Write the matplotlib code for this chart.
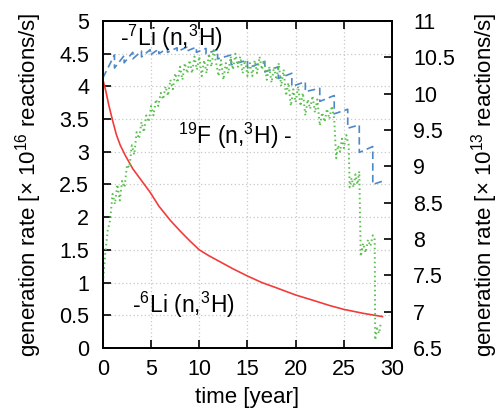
import matplotlib
matplotlib.use("Agg")
import matplotlib.pyplot as plt

plt.rcParams['font.family'] = ['Liberation Sans', 'DejaVu Sans']
plt.rcParams['mathtext.fontset'] = 'custom'
plt.rcParams['mathtext.rm'] = 'Liberation Sans'
plt.rcParams['mathtext.it'] = 'Liberation Sans:italic'

# 6Li(n,3H) generation rate, x 10^16 reactions/s
li6_t = [0, 0.3, 0.6, 1.0, 1.4, 1.8, 2.3, 3.1, 4.2, 4.9, 5.8, 7, 8, 9, 10, 11, 12, 13.5,
         15, 16.5, 18, 20, 22, 23.5, 25, 27, 29]
li6_r = [4.1, 3.93, 3.72, 3.48, 3.26, 3.1, 2.95, 2.74, 2.52, 2.38, 2.17, 1.95, 1.79,
         1.64, 1.5, 1.41, 1.33, 1.21, 1.1, 1.0, 0.92, 0.81, 0.72, 0.65, 0.59, 0.53, 0.48]

# 7Li(n,3H) generation rate, x 10^16 reactions/s (sawtooth from reloading)
li7_t = [0, 1.2, 1.2, 2.2, 2.2, 3.1, 3.1, 4.0, 4.0, 4.9, 4.9, 5.8, 5.8, 6.7, 6.7,
         7.7, 7.7, 8.7, 8.7, 9.7, 9.7, 10.7, 10.7, 11.9, 11.9, 13.3, 13.3, 15.0, 15.0,
         16.8, 16.8, 18.2, 18.2, 19.6, 19.6, 21.0, 21.0, 22.5, 22.5, 24.0, 24.0,
         25.4, 25.4, 26.6, 26.6, 28.0, 28.0, 29.0]
li7_r = [4.13, 4.48, 4.28, 4.47, 4.36, 4.52, 4.42, 4.54, 4.45, 4.56, 4.48, 4.57, 4.5,
         4.58, 4.52, 4.59, 4.53, 4.6, 4.54, 4.6, 4.52, 4.58, 4.5, 4.56, 4.42, 4.48, 4.33,
         4.4, 4.28, 4.38, 4.22, 4.3, 4.12, 4.2, 4.0, 4.07, 3.92, 3.97, 3.77, 3.86, 3.58,
         3.65, 3.36, 3.41, 2.99, 3.08, 2.5, 2.55]

# 19F(n,3H) generation rate, x 10^13 reactions/s
f19_t = [0.0, 0.25, 0.5, 0.75, 1.0, 1.25, 1.5, 1.75, 2.0, 2.25, 2.5, 2.75, 3.0, 3.25,
         3.5, 3.75, 4.0, 4.25, 4.5, 4.75, 5.0, 5.25, 5.5, 5.75, 6.0, 6.25, 6.5, 6.75,
         7.0, 7.25, 7.5, 7.75, 8.0, 8.25, 8.5, 8.75, 9.0, 9.25, 9.5, 9.75, 10.0, 10.25,
         10.5, 10.75, 11.0, 11.25, 11.5, 11.75, 12.0, 12.25, 12.5, 12.75, 13.0, 13.25,
         13.5, 13.75, 14.0, 14.25, 14.5, 14.75, 15.0, 15.25, 15.5, 15.75, 16.0, 16.25,
         16.5, 16.75, 17.0, 17.25, 17.5, 17.75, 18.0, 18.25, 18.5, 18.75, 19.0, 19.25,
         19.5, 19.75, 20.0, 20.25, 20.5, 20.75, 21.0, 21.25, 21.5, 21.75, 22.0, 22.25,
         22.5, 22.75, 23.0, 23.25, 23.5, 23.75, 24.0, 24.2, 24.4, 24.6, 24.8, 25.0,
         25.25, 25.5, 25.6, 25.8, 26.0, 26.2, 26.4, 26.6, 26.75, 27.0, 27.25, 27.5,
         27.75, 28.0, 28.2, 28.25, 28.45, 28.65, 28.8]
f19_r = [7.40, 7.81, 8.12, 8.26, 8.62, 8.48, 8.75, 8.53, 8.80, 8.71, 9.02, 8.98, 9.29,
         9.16, 9.47, 9.38, 9.61, 9.47, 9.70, 9.61, 9.83, 9.70, 9.92, 9.83, 10.01, 9.92,
         10.10, 9.97, 10.19, 10.06, 10.28, 10.15, 10.37, 10.19, 10.42, 10.28, 10.46,
         10.28, 10.51, 10.33, 10.51, 10.24, 10.46, 10.28, 10.55, 10.37, 10.60, 10.42,
         10.24, 10.46, 10.19, 10.42, 10.28, 10.51, 10.33, 10.55, 10.37, 10.51, 10.28,
         10.46, 10.24, 10.42, 10.24, 10.46, 10.28, 10.51, 10.33, 10.46, 10.19, 10.37,
         10.15, 10.37, 10.19, 10.42, 10.10, 10.33, 9.97, 10.15, 9.83, 10.06, 9.88,
         10.10, 9.83, 10.01, 9.70, 9.92, 9.79, 9.97, 9.74, 9.92, 9.56, 9.74, 9.61, 9.79,
         9.65, 9.83, 9.65, 9.11, 9.29, 9.20, 9.38, 9.25, 9.43, 9.29, 8.71, 8.84, 8.71,
         8.89, 8.75, 8.93, 7.76, 7.94, 7.81, 7.99, 7.90, 8.05, 7.99, 6.61, 6.77, 6.70,
         6.82]

left_ticks = [0, 0.5, 1, 1.5, 2, 2.5, 3, 3.5, 4, 4.5, 5]
left_labels = ['0', '0.5', '1', '1.5', '2', '2.5', '3', '3.5', '4', '4.5', '5']
right_ticks = [6.5, 7, 7.5, 8, 8.5, 9, 9.5, 10, 10.5, 11]
right_labels = ['6.5', '7', '7.5', '8', '8.5', '9', '9.5', '10', '10.5', '11']
x_ticks = [0, 5, 10, 15, 20, 25, 30]

fig = plt.figure(figsize=(5.02, 4.19), dpi=100)
ax = fig.add_axes([0.205, 0.1695, 0.576, 0.7805])
ax2 = ax.twinx()

ax.plot(li6_t, li6_r, color='#f23c3c', lw=1.2, zorder=3)
ax.plot(li7_t, li7_r, color='#4d88c7', lw=1.2, dashes=(4.5, 2.5), zorder=3)
ax2.plot(f19_t, f19_r, color='#5cc050', lw=1.4, dashes=(0.8, 1.6))

ax.set_xlim(0, 30)
ax.set_ylim(0, 5)
ax2.set_ylim(6.5, 11)
ax.set_xticks(x_ticks)
ax.set_xticklabels([str(v) for v in x_ticks])
ax.set_yticks(left_ticks)
ax.set_yticklabels(left_labels)
ax2.set_yticks(right_ticks)
ax2.set_yticklabels(right_labels)

ax.grid(True, color='#c8c8c8', linestyle=(0, (1, 2)), lw=0.9)
ax.tick_params(axis='x', direction='in', top=True, length=6, width=1.2,
               labelsize=15.5, pad=8)
ax.tick_params(axis='y', direction='in', length=6, width=1.2, labelsize=15.5, pad=10)
ax2.tick_params(axis='y', direction='in', length=6, width=1.2, labelsize=15.5, pad=15)
for a in (ax, ax2):
    for s in a.spines.values():
        s.set_linewidth(1.3)

ax.set_xlabel('time [year]', fontsize=16, labelpad=5)
ax.set_ylabel('generation rate [× 10$^{16}$ reactions/s]', fontsize=16, labelpad=11)
ax2.set_ylabel('generation rate [× 10$^{13}$ reactions/s]', fontsize=16,
               rotation=90, labelpad=10)

ax.text(1.8, 4.62, '-$^{7}$Li (n,$^{3}$H)', fontsize=16.5, va='baseline')
ax.text(7.8, 3.12, '$^{19}$F (n,$^{3}$H) -', fontsize=16.5, va='baseline')
ax.text(3.0, 0.54, '-$^{6}$Li (n,$^{3}$H)', fontsize=16.5, va='baseline')

fig.savefig('out.png', dpi=100)
